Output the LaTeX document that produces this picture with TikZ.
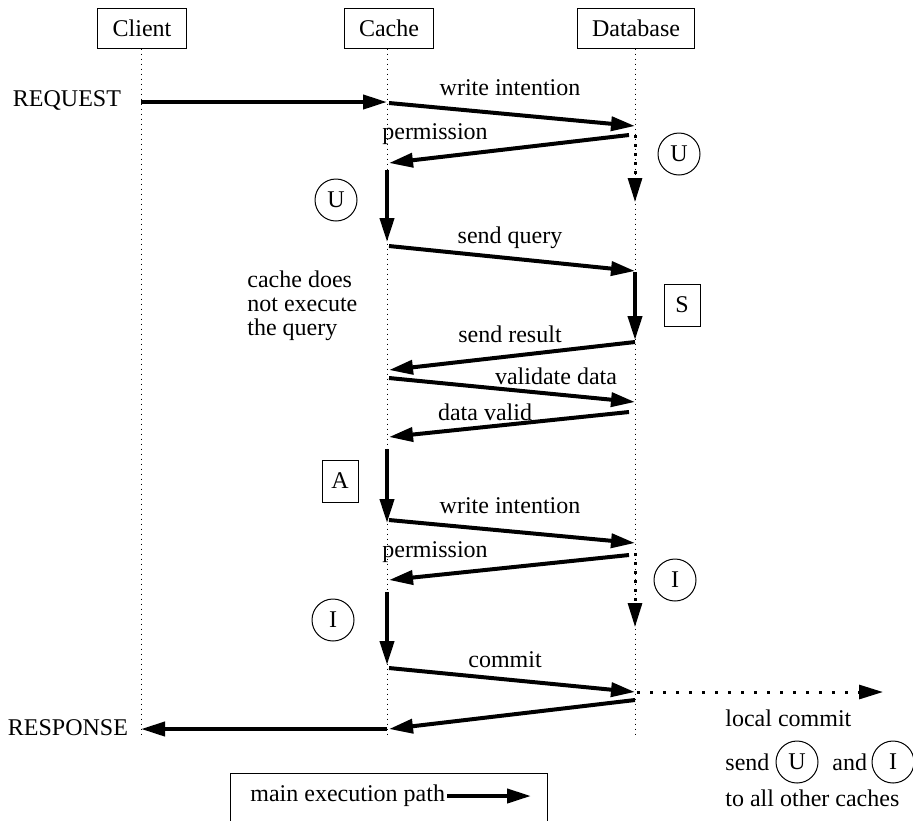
\documentclass[tikz,border=0pt]{standalone}
\usepackage{fontspec}
\setmainfont{Liberation Serif}
\usetikzlibrary{arrows.meta}
\begin{document}
\begin{tikzpicture}[x=0.5pt,y=-0.5pt,
  font=\fontsize{12pt}{14pt}\selectfont,
  lifeline/.style={line width=0.5pt,dash pattern=on 0.5pt off 2pt},
  hdr/.style={draw,line width=0.5pt,minimum height=20pt,inner xsep=7.5pt,inner ysep=0pt},
  msg/.style={line width=2pt,-{Triangle[length=12pt,width=7pt]}},
  dmsg/.style={line width=1.5pt,dash pattern=on 1.5pt off 3pt,-{Triangle[length=12pt,width=7pt]}},
  hmsg/.style={line width=1.5pt,dash pattern=on 1.5pt off 5pt,-{Triangle[length=12pt,width=7pt]}},
  stc/.style={circle,draw,line width=0.5pt,minimum size=21pt,inner sep=0pt},
  sts/.style={rectangle,draw,line width=0.5pt,minimum width=18pt,minimum height=21pt,inner sep=0pt},
  lbl/.style={inner sep=1pt}]
\useasboundingbox (0,0) rectangle (913,820);
\clip (0,0) rectangle (913,820);

% participants and their lifelines
\node[hdr] (hcl) at (142,28) {Client};
\node[hdr] (hca) at (389,28) {Cache};
\node[hdr] (hdb) at (636,28) {Database};
\coordinate (ecl) at (141,736);
\coordinate (eca) at (387,736);
\coordinate (edb) at (635,736);
\draw[lifeline] (hcl.south -| ecl) -- (ecl);
\draw[lifeline] (hca.south -| eca) -- (eca);
\draw[lifeline] (hdb.south -| edb) -- (edb);

% message end points
\coordinate (q0) at (141,102);   \coordinate (q1) at (387,102);
\coordinate (a0) at (389,103);   \coordinate (a1) at (635,126);
\coordinate (b0) at (629,135);   \coordinate (b1) at (389,163);
\coordinate (d0) at (635,135);   \coordinate (d1) at (635,202);
\coordinate (u0) at (387,170);   \coordinate (u1) at (387,242);
\coordinate (c0) at (389,246);   \coordinate (c1) at (635,271);
\coordinate (s0) at (635,272);   \coordinate (s1) at (635,340);
\coordinate (e0) at (635,342);   \coordinate (e1) at (389,370);
\coordinate (f0) at (389,378);   \coordinate (f1) at (635,402);
\coordinate (g0) at (629,412);   \coordinate (g1) at (389,437);
\coordinate (h0) at (387,449);   \coordinate (h1) at (387,523);
\coordinate (i0) at (389,520);   \coordinate (i1) at (635,543);
\coordinate (j0) at (629,555);   \coordinate (j1) at (389,580);
\coordinate (k0) at (635,553);   \coordinate (k1) at (635,627);
\coordinate (l0) at (387,592);   \coordinate (l1) at (387,665);
\coordinate (m0) at (389,668);   \coordinate (m1) at (635,692);
\coordinate (n0) at (637,692);   \coordinate (n1) at (883,692);
\coordinate (o0) at (635,700);   \coordinate (o1) at (389,729);
\coordinate (p0) at (387,729);   \coordinate (p1) at (141,729);

% messages
\draw[msg] (q0) -- (q1);
\draw[msg] (a0) -- (a1);
\draw[msg] (b0) -- (b1);
\draw[dmsg] (d0) -- (d1);
\draw[msg] (u0) -- (u1);
\draw[msg] (c0) -- (c1);
\draw[msg] (s0) -- (s1);
\draw[msg] (e0) -- (e1);
\draw[msg] (f0) -- (f1);
\draw[msg] (g0) -- (g1);
\draw[msg] (h0) -- (h1);
\draw[msg] (i0) -- (i1);
\draw[msg] (j0) -- (j1);
\draw[dmsg] (k0) -- (k1);
\draw[msg] (l0) -- (l1);
\draw[msg] (m0) -- (m1);
\draw[hmsg] (n0) -- (n1);
\draw[msg] (o0) -- (o1);
\draw[msg] (p0) -- (p1);

% message labels
\node[anchor=east] (req) at (128,100) {REQUEST};
\node[anchor=east] (resp) at (135,728) {RESPONSE};
\node[lbl] (t1) at (510,88) {write intention};
\node[lbl] (t2) at (435,134) {permission};
\node[lbl] (t3) at (510,238) {send query};
\node[lbl] (t4) at (510,334) {send result};
\node[lbl] (t5) at (556,376) {validate data};
\node[lbl] (t6) at (485,412) {data valid};
\node[lbl] (t7) at (510,506) {write intention};
\node[lbl] (t8) at (435,552) {permission};
\node[lbl] (t9) at (505,660) {commit};

\node[lbl,anchor=west] (n1a) at (245,279) {cache does};
\node[lbl,anchor=west] (n1b) at (245,305) {not execute};
\node[lbl,anchor=west] (n1c) at (245,330) {the query};

% states
\node[stc] (su1) at (679,154) {U};
\node[stc] (su2) at (336,200) {U};
\node[sts] (ss)  at (682,305) {S};
\node[sts] (sa)  at (340,481) {A};
\node[stc] (si1) at (675,580) {I};
\node[stc] (si2) at (333,620) {I};

% broadcast note
\node[lbl,anchor=west] (lc) at (723,718) {local commit};
\node[lbl,anchor=west] (sd) at (723,762) {send};
\node[stc] (su3) at (797,762) {U};
\node[lbl,anchor=west] (an) at (830,762) {and};
\node[stc] (si3) at (893,762) {I};
\node[lbl,anchor=west] (tc) at (723,798) {to all other caches};

% legend
\node[draw,line width=0.5pt,anchor=north west,minimum width=158.5pt,minimum height=30pt] (leg) at (230,773) {};
\node[lbl,anchor=west] (lt) at (248,796) {main execution path};
\coordinate (la) at (531,796);
\draw[msg] (lt.east) -- (la);
\end{tikzpicture}
\end{document}
